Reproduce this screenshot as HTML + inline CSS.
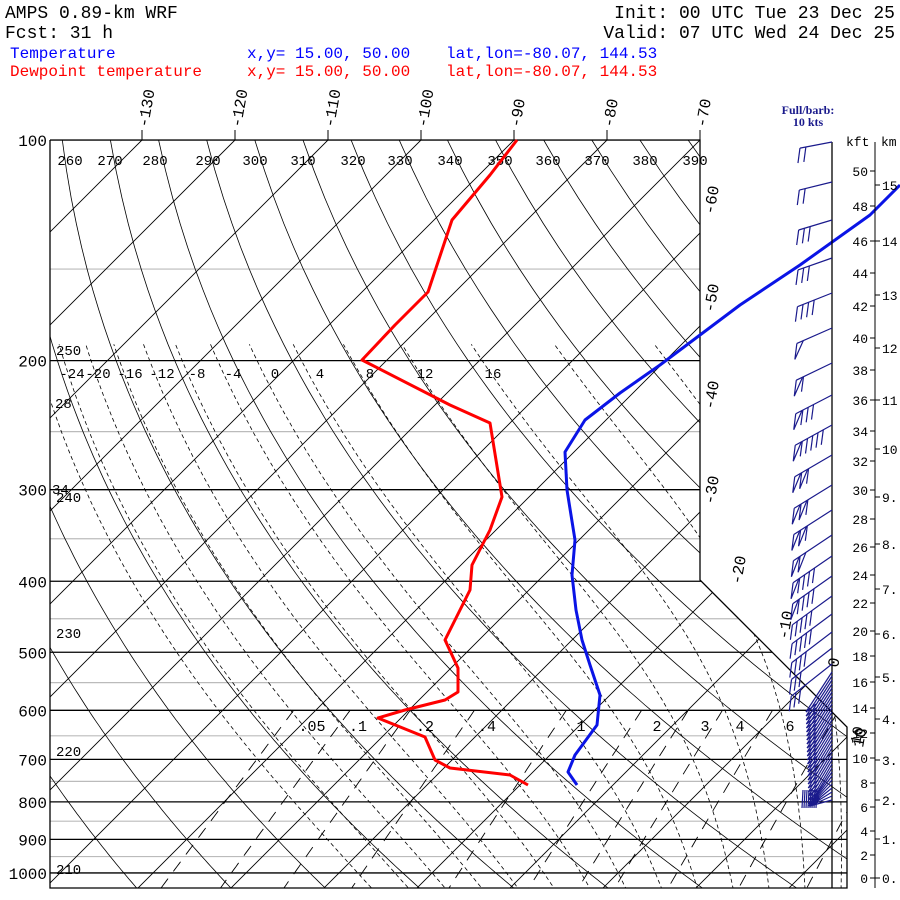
<!DOCTYPE html>
<html><head><meta charset="utf-8">
<style>
html,body{margin:0;padding:0;background:#fff;}
svg{display:block;}
text{font-family:"Liberation Mono",monospace;}
</style></head>
<body>
<svg id="s" width="900" height="900" viewBox="0 0 900 900" xmlns="http://www.w3.org/2000/svg">
<rect width="900" height="900" fill="#fff"/>
<defs>
<clipPath id="c"><polygon points="50,140 700,140 700,580 847,727 847,888 50,888"/></clipPath>
</defs>
<g id="grid" clip-path="url(#c)" fill="none"></g>
<g id="frame" fill="none" stroke="#000" stroke-width="1.3">
<polyline points="50,140 50,888 847,888 847,727 700,580 700,140 50,140"/>
</g>
<g id="lbl" font-size="14" fill="#000"></g>
<g id="data" fill="none" stroke-width="3" stroke-linejoin="round"></g>
<g id="barbs" fill="none" stroke="#1a1a8c" stroke-width="1.2"></g>
<g id="axis" font-size="13" fill="#000"></g>
<g font-size="18" fill="#000">
<text x="5" y="18">AMPS 0.89-km WRF</text>
<text x="5" y="38">Fcst:   31 h</text>
<text x="895" y="18" text-anchor="end">Init: 00 UTC Tue 23 Dec 25</text>
<text x="895" y="38" text-anchor="end">Valid: 07 UTC Wed 24 Dec 25</text>
</g>
<g font-size="16">
<text x="10" y="58" fill="#0000ff">Temperature</text>
<text x="247" y="58" fill="#0000ff">x,y= 15.00, 50.00</text>
<text x="446" y="58" fill="#0000ff">lat,lon=-80.07, 144.53</text>
<text x="10" y="76" fill="#ff0000">Dewpoint temperature</text>
<text x="247" y="76" fill="#ff0000">x,y= 15.00, 50.00</text>
<text x="446" y="76" fill="#ff0000">lat,lon=-80.07, 144.53</text>
</g>
<g font-size="12" fill="#1a1a8c" font-weight="bold">
<text x="808" y="114" text-anchor="middle" style="font-family:'Liberation Serif',serif">Full/barb:</text>
<text x="808" y="126" text-anchor="middle" style="font-family:'Liberation Serif',serif">10 kts</text>
</g>
</svg>
<script>
(function(){
var NS="http://www.w3.org/2000/svg";
function el(parent,tag,attrs,txt){var e=document.createElementNS(NS,tag);for(var k in attrs)e.setAttribute(k,attrs[k]);if(txt!=null)e.textContent=txt;document.getElementById(parent).appendChild(e);return e;}
function Y(p){return 140+318.3*Math.log(p/100);}
function X(T,p){return 700+9.3*(T+70)-(Y(p)-140);}
function pts(a){return a.map(function(q){return q[0].toFixed(1)+","+q[1].toFixed(1);}).join(" ");}
[150,250,350,450,550,650,750,850,950].forEach(function(p){el("grid","line",{x1:50,x2:900,y1:Y(p),y2:Y(p),stroke:"#bbb","stroke-width":1.2});});
[100,200,300,400,500,600,700,800,900,1000].forEach(function(p){el("grid","line",{x1:50,x2:900,y1:Y(p),y2:Y(p),stroke:"#000","stroke-width":1.3});});
for(var T=-170;T<=60;T+=10){el("grid","line",{x1:X(T,100),y1:Y(100),x2:X(T,1100),y2:Y(1100),stroke:"#000","stroke-width":0.9});}
for(var th=200;th<=460;th+=10){var a=[];for(var p=90;p<=1100;p+=10){a.push([X(th*Math.pow(p/1000,0.286)-273.15,p),Y(p)]);}el("grid","polyline",{points:pts(a),stroke:"#000","stroke-width":0.8});}
function es(T){return 6.112*Math.exp(17.67*(T-273.15)/(T-29.65));}
function dTdp(T,p){var e=es(T),rs=0.622*e/(p-e);return (287*T+2.5e6*rs)/(p*(1004+2.5e6*2.5e6*rs*0.622/(287*T*T)));}
for(var tw=-28;tw<=40;tw+=4){var Tk=tw+273.15,a=[],p=1000;var down=[];var t2=Tk;for(var pp=1000;pp<=1100;pp+=5){down.push([X(t2-273.15,pp),Y(pp)]);t2+=dTdp(t2,pp)*5;}
a=[];for(p=1000;p>=190;p-=5){a.push([X(Tk-273.15,p),Y(p)]);Tk-=dTdp(Tk,p)*5;}
el("grid","polyline",{points:pts(down.reverse().concat(a)),stroke:"#000","stroke-width":0.8,"stroke-dasharray":"4,3"});}
[0.05,0.1,0.2,0.4,1,2,3,4,6,10,16,24].forEach(function(w){var a=[];for(var p=600;p<=1100;p+=10){var e=w*p/(622+w),l=Math.log(e/6.112);a.push([X(243.5*l/(17.67-l),p),Y(p)]);}el("grid","polyline",{points:pts(a),stroke:"#000","stroke-width":0.9,"stroke-dasharray":"12,9"});});
[[100,"100"],[200,"200"],[300,"300"],[400,"400"],[500,"500"],[600,"600"],[700,"700"],[800,"800"],[900,"900"],[1000,"1000"]].forEach(function(q){el("lbl","text",{x:47,y:Y(q[0])+6,"text-anchor":"end","font-size":"16"},q[1]);});
[-130,-120,-110,-100,-90,-80,-70].forEach(function(t){var x=X(t,100);el("lbl","line",{x1:x,y1:130,x2:x,y2:140,stroke:"#000"});el("lbl","text",{x:0,y:0,"font-size":"16",transform:"translate("+(x+6)+",128) rotate(-80)"},""+t);});
[[-60,708,215],[-50,708,313],[-40,708,410],[-30,708,505],[-20,735,585],[-10,782,640],[0,832,668],[10,857,748]].forEach(function(q){el("lbl","text",{x:0,y:0,"font-size":"16",transform:"translate("+(q[1]+6)+","+q[2]+") rotate(-80)"},""+q[0]);});
[[260,70],[270,110],[280,155],[290,208],[300,255],[310,303],[320,353],[330,400],[340,450],[350,500],[360,548],[370,597],[380,645],[390,695]].forEach(function(q){el("lbl","text",{x:q[1],y:165,"text-anchor":"middle"},""+q[0]);});
[[250,355],[240,502],[230,638],[220,756],[210,874]].forEach(function(q){el("lbl","text",{x:56,y:q[1]},""+q[0]);});
[[-24,72],[-20,98],[-16,130],[-12,162],[-8,197],[-4,233],[0,275],[4,320],[8,370],[12,425],[16,493]].forEach(function(q){el("lbl","text",{x:q[1],y:378,"text-anchor":"middle"},""+q[0]);});
el("lbl","text",{x:55,y:408},"28");el("lbl","text",{x:52,y:494},"34");
[[".05",312],[".1",358],[".2",425],[".4",487],["1",581],["2",657],["3",705],["4",740],["6",790]].forEach(function(q){el("lbl","text",{x:q[1],y:731,"text-anchor":"middle","font-size":"15"},q[0]);});
el("lbl","text",{x:0,y:0,"font-size":"15",transform:"translate(860,745) rotate(-80)"},"10");
var blue=[[900,185],[870,215],[800,265],[740,305],[700,335],[660,365],[620,393],[585,420],[565,452],[567,490],[575,540],[572,575],[576,610],[582,640],[590,665],[600,695],[597,725],[575,755],[568,772],[577,785]];
var red=[[517,140],[490,175],[452,220],[428,292],[395,325],[362,360],[450,405],[490,423],[502,497],[490,530],[472,565],[470,590],[455,620],[445,640],[458,668],[458,692],[445,700],[405,710],[378,718],[425,737],[435,760],[450,768],[510,775],[528,785]];
el("data","polyline",{points:pts(blue),stroke:"#0a14e6"});
el("data","polyline",{points:pts(red),stroke:"#ff0000"});
el("barbs","line",{x1:832,y1:142,x2:832,y2:888,stroke:"#000","stroke-width":1.3});
var up=[[142,0,2],[182,0,2],[220,0,3],[258,0,3],[293,0,4],[328,1,0],[363,1,1],[395,1,3],[425,1,5],[455,2,1],[485,2,1],[510,2,1],[535,2,0],[556,1,4],[576,1,4],[596,0,5],[614,0,5],[632,0,4],[648,0,3],[664,0,3]];
up.forEach(function(b){var y=b[0],k=(y-140)/600;var ex=800-k*10,ey=y+6+k*30;var dx=ex-832,dy=ey-y,L=Math.sqrt(dx*dx+dy*dy),ux=dx/L,uy=dy/L;
el("barbs","line",{x1:832,y1:y,x2:ex,y2:ey});
var pos=0;for(var i=0;i<b[1];i++){var ax=ex-ux*pos,ay=ey-uy*pos,bx=ex-ux*(pos+7),by=ey-uy*(pos+7);el("barbs","polyline",{points:ax+","+ay+" "+(ax-2)+","+(ay+16)+" "+bx+","+by});pos+=8;}
for(var j=0;j<b[2];j++){var cx=ex-ux*pos,cy=ey-uy*pos;el("barbs","line",{x1:cx,y1:cy,x2:cx-2,y2:cy+15});pos+=6;}});
for(var y=672;y<=800;y+=4){var tx=806+(y-672)*0.03,ty=Math.min(y+40,806);el("barbs","line",{x1:832,y1:y,x2:tx,y2:ty});el("barbs","line",{x1:tx,y1:ty,x2:tx+10,y2:ty-8});}
for(var i=0;i<8;i++){el("barbs","line",{x1:803+i*2,y1:790,x2:802+i*2,y2:808});}
el("axis","line",{x1:875,y1:142,x2:875,y2:888,stroke:"#000"});
el("axis","text",{x:846,y:146},"kft");el("axis","text",{x:881,y:146},"km");
[[50,171],[48,206],[46,241],[44,273],[42,306],[40,338],[38,370],[36,400],[34,431],[32,461],[30,490],[28,519],[26,547],[24,575],[22,603],[20,631],[18,656],[16,682],[14,708],[12,733],[10,758],[8,783],[6,807],[4,831],[2,855],[0,878]].forEach(function(q){el("axis","line",{x1:870,x2:875,y1:q[1],y2:q[1],stroke:"#000"});el("axis","text",{x:868,y:q[1]+5,"text-anchor":"end"},""+q[0]);});
[[15,185],[14,241],[13,295],[12,348],[11,400],[10,449],[9,497],[8,544],[7,589],[6,634],[5,677],[4,719],[3,760],[2,800],[1,839],[0,878]].forEach(function(q){el("axis","line",{x1:875,x2:880,y1:q[1],y2:q[1],stroke:"#000"});el("axis","text",{x:882,y:q[1]+5},q[0]+".");});
})();
</script>
</body></html>
